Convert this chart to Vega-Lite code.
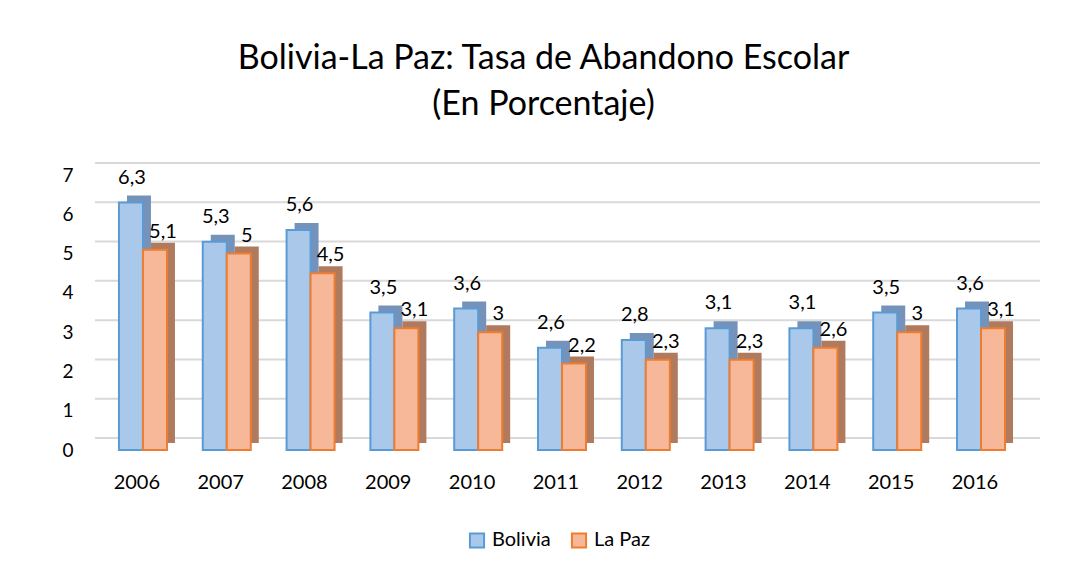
{
  "$schema": "https://vega.github.io/schema/vega-lite/v6.json",
  "autosize": {"type": "none"},
  "width": 945,
  "height": 275,
  "padding": {"left": 95, "top": 175, "right": 50, "bottom": 121},
  "background": "white",
  "title": {
    "text": ["Bolivia-La Paz: Tasa de Abandono Escolar", "(En Porcentaje)"],
    "font": "Lato",
    "fontSize": 34,
    "fontWeight": "normal",
    "color": "#000000",
    "anchor": "middle",
    "dx": -24,
    "offset": 40,
    "lineHeight": 46
  },
  "datasets": {
    "main": [
      {"year": "2006", "series": "Bolivia", "value": 6.3},
      {"year": "2006", "series": "La Paz", "value": 5.1},
      {"year": "2007", "series": "Bolivia", "value": 5.3},
      {"year": "2007", "series": "La Paz", "value": 5.0},
      {"year": "2008", "series": "Bolivia", "value": 5.6},
      {"year": "2008", "series": "La Paz", "value": 4.5},
      {"year": "2009", "series": "Bolivia", "value": 3.5},
      {"year": "2009", "series": "La Paz", "value": 3.1},
      {"year": "2010", "series": "Bolivia", "value": 3.6},
      {"year": "2010", "series": "La Paz", "value": 3.0},
      {"year": "2011", "series": "Bolivia", "value": 2.6},
      {"year": "2011", "series": "La Paz", "value": 2.2},
      {"year": "2012", "series": "Bolivia", "value": 2.8},
      {"year": "2012", "series": "La Paz", "value": 2.3},
      {"year": "2013", "series": "Bolivia", "value": 3.1},
      {"year": "2013", "series": "La Paz", "value": 2.3},
      {"year": "2014", "series": "Bolivia", "value": 3.1},
      {"year": "2014", "series": "La Paz", "value": 2.6},
      {"year": "2015", "series": "Bolivia", "value": 3.5},
      {"year": "2015", "series": "La Paz", "value": 3.0},
      {"year": "2016", "series": "Bolivia", "value": 3.6},
      {"year": "2016", "series": "La Paz", "value": 3.1}
    ],
    "grid": [{"value": 0}, {"value": 1}, {"value": 2}, {"value": 3}, {"value": 4}, {"value": 5}, {"value": 6}, {"value": 7}]
  },
  "encoding": {
    "y": {"field": "value", "type": "quantitative", "scale": {"domain": [0, 7], "nice": false},
          "axis": {"values": [0, 1, 2, 3, 4, 5, 6, 7], "format": "d", "labelOverlap": false, "labelBound": false,
                   "labelFlush": false, "labelFontSize": 19, "labelSeparation": 0, "title": null}}
  },
  "layer": [
    {
      "data": {"name": "grid"},
      "mark": {"type": "rule", "color": "#D9D9D9", "strokeWidth": 2, "yOffset": -12},
      "encoding": {}
    },
    {
      "data": {"name": "main"},
      "mark": {"type": "bar", "yOffset": -7},
      "encoding": {
        "x": {"field": "year", "type": "nominal",
              "scale": {"paddingInner": 0.43, "paddingOuter": 0.353, "align": 0.405},
              "axis": {"title": null, "labelAngle": 0, "labelOffset": -6}},
        "xOffset": {"field": "series", "type": "nominal", "scale": {"range": [8, 56]}},
        "color": {"field": "series", "type": "nominal",
                  "scale": {"domain": ["Bolivia", "La Paz"], "range": ["#7593BA", "#B07A5E"]}, "legend": null}
      }
    },
    {
      "data": {"name": "main"},
      "mark": {"type": "bar", "strokeWidth": 2},
      "encoding": {
        "x": {"field": "year", "type": "nominal", "axis": {"title": null, "labelAngle": 0, "labelOffset": -6}},
        "xOffset": {"field": "series", "type": "nominal", "scale": {"range": [0, 48]}},
        "fill": {"field": "series", "type": "nominal",
                 "scale": {"domain": ["Bolivia", "La Paz"], "range": ["#A9C8EA", "#F7B899"]},
                 "legend": {"title": null}},
        "stroke": {"field": "series", "type": "nominal",
                   "scale": {"domain": ["Bolivia", "La Paz"], "range": ["#5B9BD5", "#ED7D31"]},
                   "legend": {"title": null}}
      }
    },
    {
      "data": {"name": "main"},
      "transform": [{"filter": "datum.series === 'Bolivia'"}],
      "mark": {"type": "text", "baseline": "alphabetic", "dy": -19, "dx": 1, "fontSize": 20, "font": "Lato", "color": "#000000"},
      "encoding": {
        "x": {"field": "year", "type": "nominal"},
        "xOffset": {"field": "series", "type": "nominal", "scale": {"domain": ["Bolivia", "La Paz"], "range": [0, 48]}},
        "text": {"field": "value", "type": "quantitative", "format": ".1~f"}
      }
    },
    {
      "data": {"name": "main"},
      "transform": [{"filter": "datum.series === 'La Paz'"}],
      "mark": {"type": "text", "baseline": "alphabetic", "dy": -12, "dx": 8, "fontSize": 20, "font": "Lato", "color": "#000000"},
      "encoding": {
        "x": {"field": "year", "type": "nominal"},
        "xOffset": {"field": "series", "type": "nominal", "scale": {"domain": ["Bolivia", "La Paz"], "range": [0, 48]}},
        "text": {"field": "value", "type": "quantitative", "format": ".1~f"}
      }
    }
  ],
  "resolve": {"scale": {"color": "independent", "xOffset": "independent"}},
  "config": {
    "locale": {"number": {"decimal": ",", "thousands": ".", "grouping": [3], "currency": ["", ""]}},
    "view": {"stroke": null},
    "axis": {"labelFontSize": 20, "labelFont": "Lato", "labelColor": "#000000", "domain": false, "ticks": false,
             "grid": false, "labelPadding": 22},
    "legend": {"orient": "none", "legendX": 372, "legendY": 355, "direction": "horizontal", "padding": 0,
               "labelFontSize": 20, "labelFont": "Lato", "labelColor": "#000000", "symbolType": "square",
               "symbolSize": 200, "symbolStrokeWidth": 2, "columnPadding": 16, "labelOffset": 5}
  }
}
